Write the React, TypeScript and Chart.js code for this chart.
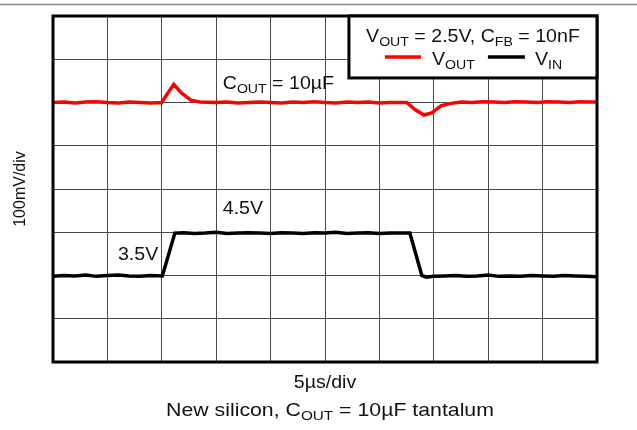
import React, { useEffect, useRef } from "react";
import { Chart, registerables } from "chart.js";
Chart.register(...registerables);

// time in µs (5 µs/div, 10 div), values in vertical divisions (100 mV/div, 8 div)
const vinTime = [0, 1, 2, 3, 4, 5, 6, 7, 8, 9, 10.05, 11.2, 12, 13, 14, 15, 16, 17, 18, 19, 20, 21, 22, 23, 24, 25, 26, 27, 28, 29, 30, 31, 32, 32.8, 33.9, 34.3, 35, 36, 37, 38, 39, 40, 41, 42, 43, 44, 45, 46, 47, 48, 49, 50];
const vinValue = [1.98, 2.0, 1.99, 2.01, 1.98, 2.0, 2.01, 1.99, 1.98, 2.0, 1.99, 2.98, 2.99, 2.97, 2.98, 3.0, 2.97, 2.98, 2.99, 2.98, 2.97, 2.99, 2.98, 2.97, 2.99, 2.98, 3.0, 2.97, 2.98, 2.99, 2.97, 2.98, 2.98, 2.98, 2.0, 1.96, 1.98, 1.99, 2.0, 1.98, 1.99, 2.01, 1.98, 1.99, 1.98, 2.0, 1.99, 1.98, 2.0, 1.99, 1.98, 1.97];
const voutTime = [0, 1, 2, 3, 4, 5, 6, 7, 8, 9, 10, 10.5, 11.1, 11.8, 12.7, 13.5, 15, 16, 17, 18, 19, 20, 21, 22, 23, 24, 25, 26, 27, 28, 29, 30, 31, 32.5, 33.3, 34.1, 34.8, 35.7, 36.6, 37.5, 38.5, 39.5, 40.5, 41.5, 42.5, 43.5, 44.5, 45.5, 46.5, 47.5, 48.5, 49.5, 50];
const voutValue = [6.0, 6.01, 5.99, 6.01, 6.02, 6.0, 5.99, 6.01, 6.0, 5.99, 6.0, 6.2, 6.42, 6.22, 6.05, 6.01, 6.0, 6.01, 5.99, 6.0, 6.01, 6.0, 5.99, 6.01, 6.0, 6.02, 6.0, 5.99, 6.01, 6.0, 6.01, 5.99, 6.0, 6.0, 5.83, 5.71, 5.76, 5.93, 5.98, 6.01, 6.0, 6.02, 6.01, 6.0, 6.02, 6.01, 6.0, 6.02, 6.01, 6.0, 6.02, 6.01, 6.01];

const timeMax = 50;
const timeStep = 5;
const divMax = 8;

const yTitle = "100mV/div";
const xTitle = "5µs/div";

const FONT = '"Liberation Sans", Arial, Helvetica, sans-serif';
const SX = 1.12;
const TXT = "#111";

type Part = { t: string; sub?: boolean };

function partsWidth(ctx: CanvasRenderingContext2D, parts: Part[], size: number) {
  let w = 0;
  for (const p of parts) {
    ctx.font = `${p.sub ? size * 0.72 : size}px ${FONT}`;
    w += ctx.measureText(p.t).width;
  }
  return w;
}

function drawRich(
  ctx: CanvasRenderingContext2D,
  parts: Part[],
  x: number,
  y: number,
  size: number,
  align: "left" | "center" = "left",
  sx = SX
) {
  ctx.save();
  ctx.translate(x, y);
  ctx.scale(sx, 1);
  const w = partsWidth(ctx, parts, size);
  let cx = align === "center" ? -w / 2 : 0;
  ctx.fillStyle = TXT;
  ctx.textBaseline = "alphabetic";
  ctx.textAlign = "left";
  for (const p of parts) {
    ctx.font = `${p.sub ? size * 0.72 : size}px ${FONT}`;
    ctx.fillText(p.t, cx, p.sub ? size * 0.2 : 0);
    cx += ctx.measureText(p.t).width;
  }
  ctx.restore();
}

const decor = {
  id: "decor",
  afterDraw(chart: any) {
    const { ctx, chartArea: ca, scales } = chart;
    const xs = scales.x;
    const ys = scales.y;
    ctx.save();
    // top rule
    ctx.strokeStyle = "#8a8a8a";
    ctx.lineWidth = 1.5;
    ctx.beginPath();
    ctx.moveTo(0, 4.5);
    ctx.lineTo(chart.width, 4.5);
    ctx.stroke();

    // frame
    ctx.strokeStyle = "#000";
    ctx.lineWidth = 3;
    ctx.strokeRect(ca.left, ca.top, ca.right - ca.left, ca.bottom - ca.top);

    // legend box
    const lx = ca.left + 0.544 * (ca.right - ca.left);
    const lb = ca.top + 0.179 * (ca.bottom - ca.top);
    ctx.fillStyle = "#fff";
    ctx.fillRect(lx, ca.top, ca.right - lx, lb - ca.top);
    ctx.lineWidth = 3;
    ctx.strokeRect(lx, ca.top, ca.right - lx, lb - ca.top);
    const lcx = (lx + ca.right) / 2;
    drawRich(
      ctx,
      [{ t: "V" }, { t: "OUT", sub: true }, { t: " = 2.5V, C" }, { t: "FB", sub: true }, { t: " = 10nF" }],
      lcx,
      ca.top + 26,
      17.5,
      "center"
    );
    // legend lines
    const ly = ca.top + 41;
    ctx.lineWidth = 3.5;
    ctx.strokeStyle = "#ff0000";
    ctx.beginPath();
    ctx.moveTo(lx + 36, ly);
    ctx.lineTo(lx + 72, ly);
    ctx.stroke();
    drawRich(ctx, [{ t: "V" }, { t: "OUT", sub: true }], lx + 83, ly + 8, 17.5);
    ctx.strokeStyle = "#000";
    ctx.beginPath();
    ctx.moveTo(lx + 139, ly);
    ctx.lineTo(lx + 176, ly);
    ctx.stroke();
    drawRich(ctx, [{ t: "V" }, { t: "IN", sub: true }], lx + 186, ly + 8, 17.5);

    // annotations
    drawRich(ctx, [{ t: "C" }, { t: "OUT", sub: true }, { t: " = 10µF" }], xs.getPixelForValue(15.6), ys.getPixelForValue(6.31), 17.5);
    drawRich(ctx, [{ t: "4.5V" }], xs.getPixelForValue(15.6), ys.getPixelForValue(3.42), 17.5);
    drawRich(ctx, [{ t: "3.5V" }], xs.getPixelForValue(5.97), ys.getPixelForValue(2.36), 17.5);

    // axis titles
    drawRich(ctx, [{ t: xTitle }], (ca.left + ca.right) / 2, ca.bottom + 26, 17.5, "center");
    ctx.save();
    ctx.translate(19 + 6, (ca.top + ca.bottom) / 2);
    ctx.rotate(-Math.PI / 2);
    drawRich(ctx, [{ t: yTitle }], 0, 0, 16, "center", 1);
    ctx.restore();

    // caption
    drawRich(
      ctx,
      [{ t: "New silicon, C" }, { t: "OUT", sub: true }, { t: " = 10µF tantalum" }],
      330,
      416,
      19,
      "center"
    );
    ctx.restore();
  },
};

export default function App() {
  const ref = useRef<HTMLCanvasElement | null>(null);
  useEffect(() => {
    if (!ref.current) return;
    const chart = new Chart(ref.current, {
      type: "line",
      data: {
        datasets: [
          {
            label: "VOUT",
            data: voutTime.map((t, i) => ({ x: t, y: voutValue[i] })),
            borderColor: "#ff0000",
            borderWidth: 3.5,
            pointRadius: 0,
            tension: 0,
          },
          {
            label: "VIN",
            data: vinTime.map((t, i) => ({ x: t, y: vinValue[i] })),
            borderColor: "#000000",
            borderWidth: 3.5,
            pointRadius: 0,
            tension: 0,
          },
        ],
      },
      options: {
        responsive: false,
        animation: false,
        events: [],
        layout: { padding: { left: 53, top: 16, right: 40, bottom: 68 } },
        plugins: { legend: { display: false }, tooltip: { enabled: false }, title: { display: false } },
        scales: {
          x: {
            type: "linear",
            min: 0,
            max: timeMax,
            ticks: { display: false, stepSize: timeStep },
            grid: { color: "#4a4a4a", lineWidth: 1, drawTicks: false },
            border: { display: false },
          },
          y: {
            type: "linear",
            min: 0,
            max: divMax,
            ticks: { display: false, stepSize: 1 },
            grid: { color: "#4a4a4a", lineWidth: 1, drawTicks: false },
            border: { display: false },
          },
        },
      },
      plugins: [decor],
    });
    return () => chart.destroy();
  }, []);
  return (
    <div style={{ position: "fixed", left: 0, top: 0, width: 637, height: 430, background: "#fff" }}>
      <canvas ref={ref} width={637} height={430} style={{ display: "block" }} />
    </div>
  );
}
